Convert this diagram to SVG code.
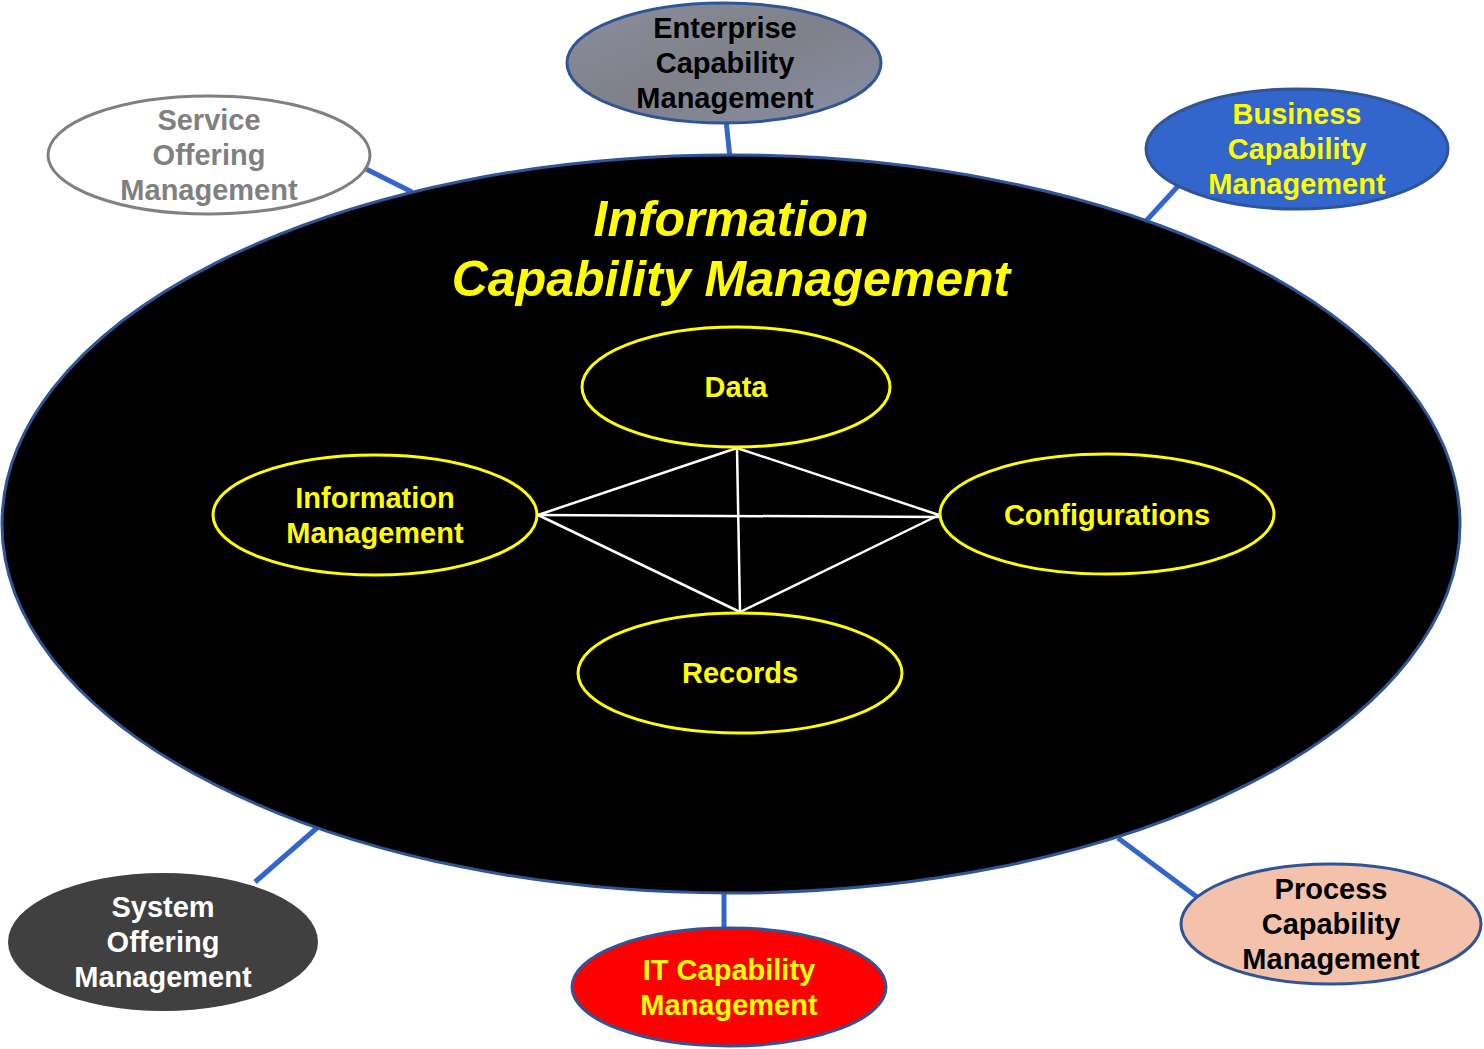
<svg xmlns="http://www.w3.org/2000/svg" width="1484" height="1049" viewBox="0 0 1484 1049">
<style>
text{font-family:"Liberation Sans",Arial,sans-serif;font-weight:bold;text-anchor:middle}
.lbl{font-size:29px}
.title{font-size:50px;font-style:italic;fill:#ffff00}
.conn{stroke:#3366cc;stroke-width:5;fill:none}
.inner{fill:#000;stroke:#ffff00;stroke-width:3}
.web{stroke:#fff;stroke-width:2.5;fill:none}
</style>
<defs>
<linearGradient id="gEnt" x1="0" y1="0" x2="1" y2="1">
<stop offset="0" stop-color="#8a8e9e"/>
<stop offset="0.5" stop-color="#7f8088"/>
<stop offset="1" stop-color="#8890a8"/>
</linearGradient>
</defs>
<rect width="1484" height="1049" fill="#fff"/>
<g id="connectors">
<line class="conn" x1="726" y1="120" x2="730" y2="158"/>
<line class="conn" x1="366" y1="169" x2="412" y2="192"/>
<line class="conn" x1="1179" y1="185" x2="1146" y2="221"/>
<line class="conn" x1="255" y1="882" x2="318" y2="827"/>
<line class="conn" x1="724" y1="890" x2="724" y2="929"/>
<line class="conn" x1="1118" y1="838" x2="1197" y2="897"/>
</g>
<g id="main">
<ellipse cx="731" cy="524" rx="729" ry="369" fill="#000" stroke="#2f5597" stroke-width="3"/>
<text class="title" x="731" y="236">Information</text>
<text class="title" x="731" y="296">Capability Management</text>
</g>
<g id="web">
<line class="web" x1="737" y1="448" x2="538" y2="515"/>
<line class="web" x1="737" y1="448" x2="939" y2="515"/>
<line class="web" x1="737" y1="448" x2="740" y2="612"/>
<line class="web" x1="538" y1="515" x2="939" y2="517"/>
<line class="web" x1="538" y1="515" x2="740" y2="612"/>
<line class="web" x1="939" y1="515" x2="740" y2="612"/>
</g>
<g id="data">
<ellipse class="inner" cx="736" cy="387" rx="154" ry="60"/>
<text class="lbl" x="736" y="397" fill="#ffff00">Data</text>
</g>
<g id="infomgmt">
<ellipse class="inner" cx="375" cy="515" rx="162" ry="60"/>
<text class="lbl" x="375" y="508" fill="#ffff00">Information</text>
<text class="lbl" x="375" y="543" fill="#ffff00">Management</text>
</g>
<g id="config">
<ellipse class="inner" cx="1107" cy="514" rx="167" ry="60"/>
<text class="lbl" x="1107" y="525" fill="#ffff00">Configurations</text>
</g>
<g id="records">
<ellipse class="inner" cx="740" cy="673" rx="162" ry="60"/>
<text class="lbl" x="740" y="683" fill="#ffff00">Records</text>
</g>
<g id="enterprise">
<ellipse cx="724" cy="63" rx="157" ry="60" fill="url(#gEnt)" stroke="#2f5597" stroke-width="3"/>
<text class="lbl" x="725" y="38" fill="#000">Enterprise</text>
<text class="lbl" x="725" y="73" fill="#000">Capability</text>
<text class="lbl" x="725" y="108" fill="#000">Management</text>
</g>
<g id="service">
<ellipse cx="209" cy="155" rx="161" ry="59" fill="#fff" stroke="#808080" stroke-width="3"/>
<text class="lbl" x="209" y="130" fill="#808080">Service</text>
<text class="lbl" x="209" y="165" fill="#808080">Offering</text>
<text class="lbl" x="209" y="200" fill="#808080">Management</text>
</g>
<g id="business">
<ellipse cx="1297" cy="149" rx="151" ry="60" fill="#3366cc" stroke="#2f5597" stroke-width="3"/>
<text class="lbl" x="1297" y="124" fill="#ffff00">Business</text>
<text class="lbl" x="1297" y="159" fill="#ffff00">Capability</text>
<text class="lbl" x="1297" y="194" fill="#ffff00">Management</text>
</g>
<g id="system">
<ellipse cx="163" cy="942" rx="155" ry="69" fill="#404040"/>
<text class="lbl" x="163" y="917" fill="#fff">System</text>
<text class="lbl" x="163" y="952" fill="#fff">Offering</text>
<text class="lbl" x="163" y="987" fill="#fff">Management</text>
</g>
<g id="it">
<ellipse cx="729" cy="987" rx="157" ry="59" fill="#ff0000" stroke="#2f5597" stroke-width="3"/>
<text class="lbl" x="729" y="980" fill="#ffff00">IT Capability</text>
<text class="lbl" x="729" y="1015" fill="#ffff00">Management</text>
</g>
<g id="process">
<ellipse cx="1331" cy="924" rx="150" ry="60" fill="#f4c2aa" stroke="#2f5597" stroke-width="3"/>
<text class="lbl" x="1331" y="899" fill="#000">Process</text>
<text class="lbl" x="1331" y="934" fill="#000">Capability</text>
<text class="lbl" x="1331" y="969" fill="#000">Management</text>
</g>
</svg>
